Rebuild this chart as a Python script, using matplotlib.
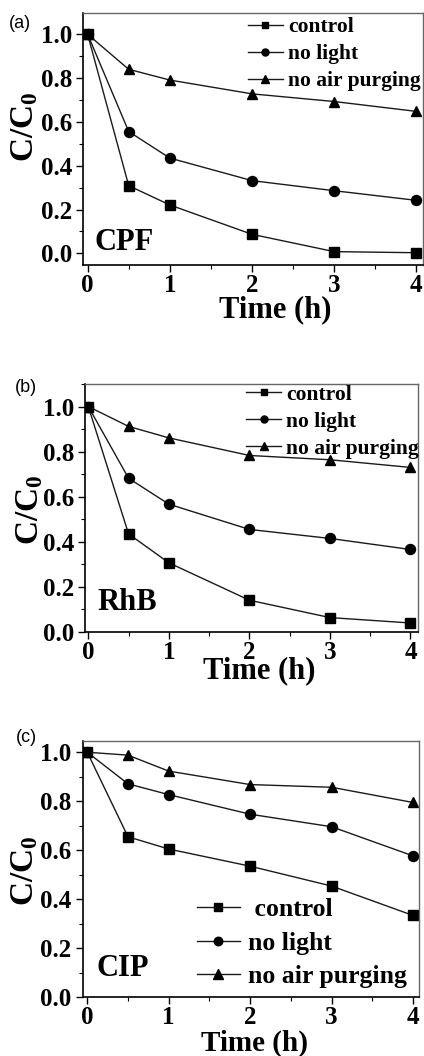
import matplotlib
matplotlib.use("Agg")
import matplotlib.pyplot as plt
from matplotlib.ticker import MultipleLocator

plt.rcParams['font.family'] = ['Liberation Serif', 'DejaVu Serif']
plt.rcParams['font.weight'] = 'bold'
plt.rcParams['mathtext.fontset'] = 'custom'
plt.rcParams['mathtext.rm'] = 'Liberation Serif:bold'
plt.rcParams['mathtext.bf'] = 'Liberation Serif:bold'
plt.rcParams['mathtext.it'] = 'Liberation Serif:bold'

time_h = [0, 0.5, 1, 2, 3, 4]
series_names = ["control", "no light", "no air purging"]

cpf_control = [1.0, 0.309, 0.221, 0.087, 0.008, 0.003]
cpf_nolight = [1.0, 0.556, 0.435, 0.332, 0.286, 0.242]
cpf_noair = [1.0, 0.840, 0.791, 0.728, 0.693, 0.648]

rhb_control = [1.0, 0.435, 0.307, 0.141, 0.064, 0.040]
rhb_nolight = [1.0, 0.682, 0.567, 0.455, 0.415, 0.366]
rhb_noair = [1.0, 0.912, 0.861, 0.783, 0.764, 0.730]

cip_control = [1.0, 0.655, 0.605, 0.535, 0.454, 0.334]
cip_nolight = [1.0, 0.871, 0.827, 0.747, 0.696, 0.577]
cip_noair = [1.0, 0.988, 0.923, 0.868, 0.857, 0.795]

panels = ["(a)", "(b)", "(c)"]
compounds = ["CPF", "RhB", "CIP"]
data = [
    (cpf_control, cpf_nolight, cpf_noair),
    (rhb_control, rhb_nolight, rhb_noair),
    (cip_control, cip_nolight, cip_noair),
]
ylims = [(-0.053, 1.097), (0.0, 1.1), (0.0, 1.047)]
xlims = [(-0.056, 4.08), (-0.041, 4.09), (-0.056, 4.07)]

W, H = 424, 1056
fig = plt.figure(figsize=(W / 100, H / 100), dpi=100)

# axes rectangles in pixels: left, top, right, bottom
rects = [(83, 13, 423, 265), (85, 384, 417.7, 632), (82.7, 740.7, 418.7, 997.3)]
markers = ['s', 'o', '^']
msizes = [7.0, 7.2, 7.8]

ylabel_pos = [(25, 127), (30, 510), (25, 871)]
xlabel_pos = [(275, 310), (259, 671), (255, 1043)]
xlabel_sizes = [22, 22, 21]
panel_pos = [(20, 24), (26, 387), (26, 737)]
comp_pos = [(95, 242), (97, 603), (97, 969)]

for i in range(3):
    l, t, r, b = rects[i]
    ax = fig.add_axes([l / W, 1 - b / H, (r - l) / W, (b - t) / H])
    handles = []
    for j, vals in enumerate(data[i]):
        h, = ax.plot(time_h, vals, color='#1a1a1a', lw=1.0, marker=markers[j],
                     markersize=msizes[j], markerfacecolor='black',
                     markeredgecolor='black', label=(" " + series_names[j]) if (i == 2 and j == 0) else series_names[j])
        handles.append(h)
    ax.set_xlim(*xlims[i])
    ax.set_ylim(*ylims[i])
    ax.set_xticks([0, 1, 2, 3, 4])
    ax.set_yticks([0.0, 0.2, 0.4, 0.6, 0.8, 1.0])
    ax.set_yticklabels(["0.0", "0.2", "0.4", "0.6", "0.8", "1.0"])
    ax.xaxis.set_minor_locator(MultipleLocator(0.5))
    ax.yaxis.set_minor_locator(MultipleLocator(0.1))
    ax.tick_params(which='both', direction='out', top=False, right=False,
                   labelsize=18, pad=3)
    ax.tick_params(axis='x', pad=1.5)
    ax.tick_params(which='major', length=5, width=1.0)
    ax.tick_params(which='minor', length=3, width=0.8)
    for lab in ax.get_xticklabels() + ax.get_yticklabels():
        lab.set_fontweight('bold')
    ax.spines['bottom'].set_linewidth(1.2)
    ax.spines['left'].set_linewidth(1.2)
    ax.spines['top'].set_color('#666666')
    ax.spines['right'].set_color('#666666')
    ax.spines['top'].set_linewidth(1.0)
    ax.spines['right'].set_linewidth(1.0)

    if i < 2:
        leg = ax.legend(handles=handles, loc='upper left',
                        bbox_to_anchor=(0.485, 0.984 if i == 0 else 0.998),
                        frameon=False, fontsize=15.5, borderpad=0, borderaxespad=0,
                        handlelength=1.63, handletextpad=0.23, labelspacing=0.33,
                        markerscale=0.7)
    else:
        leg = ax.legend(handles=handles, loc='lower left',
                        bbox_to_anchor=(0.34, 0.037),
                        frameon=False, fontsize=18.5, borderpad=0, borderaxespad=0,
                        handlelength=1.67, handletextpad=0.3, labelspacing=0.4,
                        markerscale=0.85)
    for txt in leg.get_texts():
        txt.set_fontweight('bold')

    fig.text(ylabel_pos[i][0] / W, 1 - ylabel_pos[i][1] / H, r'$\mathrm{C/C_0}$',
             rotation=90, ha='center', va='center', fontsize=24, fontweight='bold')
    fig.text(xlabel_pos[i][0] / W, 1 - xlabel_pos[i][1] / H, "Time (h)",
             ha='center', va='center', fontsize=xlabel_sizes[i], fontweight='bold')
    fig.text(panel_pos[i][0] / W, 1 - panel_pos[i][1] / H, panels[i],
             ha='center', va='center', fontsize=13, fontweight='normal',
             family=['Liberation Sans', 'DejaVu Sans'])
    fig.text(comp_pos[i][0] / W, 1 - comp_pos[i][1] / H, compounds[i],
             ha='left', va='center', fontsize=22, fontweight='bold')

fig.savefig("out.png", dpi=100, facecolor='white')
